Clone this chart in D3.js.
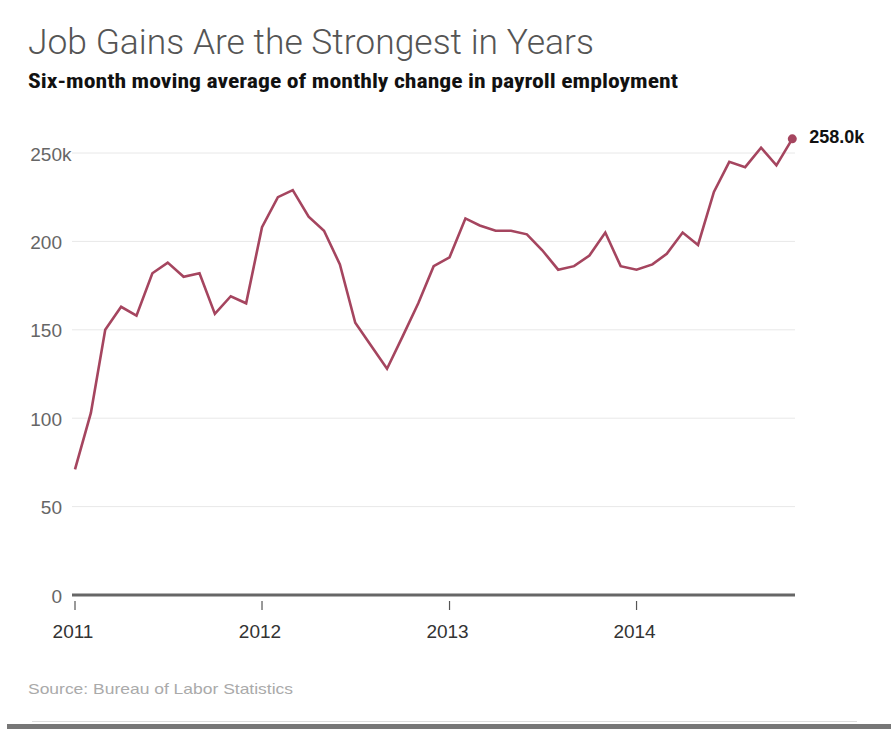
<!DOCTYPE html>
<html>
<head>
<meta charset="utf-8">
<script src="https://cdn.jsdelivr.net/npm/d3@7"></script>
<style>
  html, body { margin: 0; padding: 0; background: #fff; }
  svg { display: block; }
</style>
</head>
<body>
<svg id="chart" width="891" height="729"></svg>
<script>
// ---- data (six-month moving average, thousands) ----
const startMonth = "2011-01";
const values2011 = [71, 103, 150, 163, 158, 182, 188, 180, 182, 159, 169, 165];
const values2012 = [208, 225, 229, 214, 206, 187, 154, 141, 128, 146, 165, 186];
const values2013 = [191, 213, 209, 206, 206, 204, 195, 184, 186, 192, 205, 186];
const values2014 = [184, 187, 193, 205, 198, 228, 245, 242, 253, 243, 258];
const yTicks = [0, 50, 100, 150, 200, 250];
const xTickYears = [2011, 2012, 2013, 2014];
const titleText = "Job Gains Are the Strongest in Years";
const subtitleText = "Six-month moving average of monthly change in payroll employment";
const sourceText = "Source: Bureau of Labor Statistics";

const values = [].concat(values2011, values2012, values2013, values2014);
const parse = d3.timeParse("%Y-%m");
const t0 = parse(startMonth);
const data = values.map((v, i) => ({ date: d3.timeMonth.offset(t0, i), value: v }));

const svg = d3.select("#chart");
const x = d3.scaleTime()
  .domain([data[0].date, data[data.length - 1].date])
  .range([75, 792.3]);
const y = d3.scaleLinear().domain([0, 250]).range([595, 153]);

// title & subtitle
svg.append("text")
  .attr("x", 28).attr("y", 54)
  .attr("font-family", "Roboto, Lato, 'Open Sans', sans-serif")
  .attr("font-weight", 300)
  .attr("font-size", 35)
  .attr("fill", "#555")
  .attr("textLength", 566).attr("lengthAdjust", "spacingAndGlyphs")
  .text(titleText);

svg.append("text")
  .attr("x", 28).attr("y", 88)
  .attr("font-family", "'Liberation Sans Narrow', 'Roboto Condensed', 'Liberation Sans', sans-serif")
  .attr("font-weight", "bold")
  .attr("font-size", 20.5)
  .attr("fill", "#111")
  .attr("textLength", 650).attr("lengthAdjust", "spacingAndGlyphs")
  .text(subtitleText);

// gridlines
svg.append("g")
  .selectAll("line")
  .data(yTicks.filter(d => d > 0))
  .join("line")
  .attr("x1", 72).attr("x2", 795)
  .attr("y1", d => y(d)).attr("y2", d => y(d))
  .attr("stroke", "#e8e8e8").attr("stroke-width", 1);

// y labels
const yl = svg.append("g")
  .attr("font-family", "'Liberation Sans', Arial, sans-serif")
  .attr("font-size", 19)
  .attr("fill", "#666");
yl.selectAll("text")
  .data(yTicks)
  .join("text")
  .attr("x", 62)
  .attr("y", d => y(d) + 1)
  .attr("dy", "0.35em")
  .attr("text-anchor", "end")
  .text(d => d);
yl.append("text")
  .attr("x", 62).attr("y", y(yTicks[yTicks.length - 1]) + 1).attr("dy", "0.35em")
  .text("k");

// baseline
svg.append("line")
  .attr("x1", 72).attr("x2", 795)
  .attr("y1", y(0)).attr("y2", y(0))
  .attr("stroke", "#666").attr("stroke-width", 3);

// x axis ticks & labels
const xTickDates = xTickYears.map(yr => new Date(yr, 0, 1));
const xg = svg.append("g");
xg.selectAll("line")
  .data(xTickDates)
  .join("line")
  .attr("x1", d => x(d)).attr("x2", d => x(d))
  .attr("y1", 601).attr("y2", 610)
  .attr("stroke", "#555").attr("stroke-width", 1.2);
xg.selectAll("text")
  .data(xTickDates)
  .join("text")
  .attr("x", d => x(d) - 2)
  .attr("y", 638)
  .attr("text-anchor", "middle")
  .attr("font-family", "'Liberation Sans', Arial, sans-serif")
  .attr("font-size", 19)
  .attr("fill", "#333")
  .text(d => d3.timeFormat("%Y")(d));

// line
const line = d3.line().x(d => x(d.date)).y(d => y(d.value));
svg.append("path")
  .datum(data)
  .attr("d", line)
  .attr("fill", "none")
  .attr("stroke", "#a5455f")
  .attr("stroke-width", 2.6)
  .attr("stroke-linejoin", "miter");

// end dot & label
const last = data[data.length - 1];
svg.append("circle")
  .attr("cx", x(last.date)).attr("cy", y(last.value))
  .attr("r", 4.5)
  .attr("fill", "#a5455f");
svg.append("text")
  .attr("x", x(last.date) + 17)
  .attr("y", y(last.value) + 4)
  .attr("font-family", "'Liberation Sans', Arial, sans-serif")
  .attr("font-weight", "bold")
  .attr("font-size", 18)
  .attr("fill", "#111")
  .text(d3.format(".1f")(last.value) + "k");

// source
svg.append("text")
  .attr("x", 28).attr("y", 694)
  .attr("font-family", "'Liberation Sans Narrow', 'Liberation Sans', sans-serif")
  .attr("font-size", 15)
  .attr("fill", "#aaa")
  .attr("textLength", 265).attr("lengthAdjust", "spacingAndGlyphs")
  .text(sourceText);

// bottom rules
svg.append("line")
  .attr("x1", 32).attr("x2", 857)
  .attr("y1", 721.5).attr("y2", 721.5)
  .attr("stroke", "#ddd").attr("stroke-width", 1);
svg.append("rect")
  .attr("x", 7).attr("y", 724)
  .attr("width", 884).attr("height", 5)
  .attr("fill", "#777");
</script>
</body>
</html>
